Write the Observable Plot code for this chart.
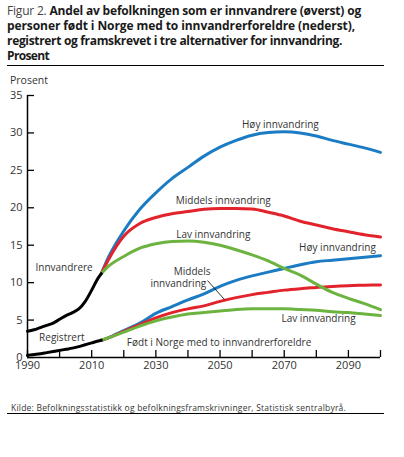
<!DOCTYPE html>
<html><head><meta charset="utf-8">
<script src="https://cdn.jsdelivr.net/npm/d3@7"></script>
<script src="https://cdn.jsdelivr.net/npm/@observablehq/plot@0.6"></script>
<style>
body{margin:0;background:#fff;font-family:"Open Sans",sans-serif;color:#222;}
#wrap{position:relative;width:404px;height:457px;overflow:hidden}
.tl{position:absolute;left:7px;font-size:12px;line-height:13px;height:13px;white-space:nowrap;font-weight:700;color:#1a1a1a}
.tl .fig{font-weight:400;color:#444}
.fit{display:inline-block;white-space:nowrap;line-height:13px}
.hr{position:absolute;left:7px;width:377px;height:0;border-top:1.3px solid #000}
#chart{position:absolute;left:0;top:70px}
.ylab{position:absolute;left:10px;top:74px;font-size:10.5px;line-height:12px;color:#333}
.cap{position:absolute;left:11px;top:401px;font-size:8.5px;line-height:10px;color:#333}
</style></head>
<body><div id="wrap">
<div class="tl" style="top:4px"><span class="fit" data-w="354"><span class="fig">Figur 2.</span> Andel av befolkningen som er innvandrere (øverst) og</span></div>
<div class="tl" style="top:19px"><span class="fit" data-w="348">personer født i Norge med to innvandrerforeldre (nederst),</span></div>
<div class="tl" style="top:34px"><span class="fit" data-w="335">registrert og framskrevet i tre alternativer for innvandring.</span></div>
<div class="tl" style="top:49px"><span class="fit" data-w="42">Prosent</span></div>
<div class="hr" style="top:65px"></div>
<div id="chart"></div>
<div class="ylab">Prosent</div>
<div class="cap"><span class="fit" data-w="335">Kilde: Befolkningsstatistikk og befolkningsframskrivninger, Statistisk sentralbyrå.</span></div>
<div class="hr" style="top:413px"></div>
</div>
<script>
// Registered (history)
const histYears = [1990, 1992, 1994, 1996, 1998, 2000, 2002, 2004, 2006, 2008, 2010, 2012, 2013];
const histImmigrants = [3.5, 3.7, 4.0, 4.3, 4.6, 5.1, 5.6, 6.0, 6.5, 7.5, 9.0, 10.6, 11.2];
const histBorn = [0.3, 0.4, 0.5, 0.65, 0.8, 0.95, 1.1, 1.25, 1.45, 1.7, 1.95, 2.2, 2.3];

// Projections
const projYears = [2013, 2015, 2020, 2025, 2030, 2035, 2040, 2045, 2050, 2055, 2060, 2065, 2070, 2075, 2080, 2085, 2090, 2095, 2100];
const immHigh   = [11.2, 13.2, 16.9, 19.8, 22.0, 23.9, 25.4, 26.9, 28.1, 29.0, 29.7, 30.05, 30.15, 30.0, 29.6, 29.0, 28.5, 28.0, 27.4];
const immMiddle = [11.2, 12.9, 16.2, 17.9, 18.7, 19.2, 19.5, 19.8, 19.9, 19.9, 19.85, 19.4, 18.9, 18.2, 17.7, 17.2, 16.8, 16.4, 16.1];
const immLow    = [11.2, 12.1, 13.5, 14.6, 15.2, 15.5, 15.55, 15.4, 15.0, 14.4, 13.7, 12.9, 11.9, 11.0, 9.8, 8.7, 7.9, 7.2, 6.4];
const bornHigh   = [2.3, 2.6, 3.6, 4.6, 5.9, 6.8, 7.7, 8.5, 9.5, 10.3, 10.9, 11.4, 11.9, 12.4, 12.8, 13.0, 13.2, 13.4, 13.6];
const bornMiddle = [2.3, 2.6, 3.5, 4.4, 5.3, 6.0, 6.5, 6.9, 7.5, 8.0, 8.4, 8.7, 9.0, 9.2, 9.35, 9.5, 9.6, 9.65, 9.7];
const bornLow    = [2.3, 2.6, 3.4, 4.2, 4.9, 5.4, 5.8, 6.0, 6.2, 6.4, 6.5, 6.5, 6.5, 6.4, 6.3, 6.1, 6.0, 5.8, 5.6];

// Axis ticks
const yTicks = [0, 5, 10, 15, 20, 25, 30, 35];
const xTicks = [1990, 2000, 2010, 2020, 2030, 2040, 2050, 2060, 2070, 2080, 2090, 2100];
const xTickLabels = [1990, 2010, 2030, 2050, 2070, 2090];

// Labels (annotations)
const labelTexts = ["Høy innvandring", "Middels innvandring", "Lav innvandring", "Høy innvandring", "Middels", "innvandring", "Lav innvandring", "Innvandrere", "Registrert", "Født i Norge med to innvandrerforeldre"];
const labelYears = [2068.8, 2051.0, 2047.9, 2086.6, 2041.3, 2037.0, 2080.7, 2001.4, 2000.7, 2049.7];
const labelValues = [31.1, 20.9, 16.4, 14.65, 11.5, 9.8, 5.17, 12.0, 2.67, 1.96];
const leaderYears = [2046.1, 2051.4];
const leaderValues = [10.28, 7.74];

const colors = {high: "#1b7cc3", middle: "#e2232c", low: "#6db33f", hist: "#000"};

const rows = [];
const add = (key, years, vals) => years.forEach((y, i) => rows.push({series: key, kind: key.split("-")[1], year: y, value: vals[i]}));
add("imm-high", projYears, immHigh);
add("born-high", projYears, bornHigh);
add("imm-middle", projYears, immMiddle);
add("born-middle", projYears, bornMiddle);
add("imm-low", projYears, immLow);
add("born-low", projYears, bornLow);
add("imm-hist", histYears, histImmigrants);
add("born-hist", histYears, histBorn);

const labels = labelTexts.map((t, i) => ({text: t, year: labelYears[i], value: labelValues[i]}));
const leader = [{x1: leaderYears[0], y1: leaderValues[0], x2: leaderYears[1], y2: leaderValues[1]}];

const chart = Plot.plot({
  width: 404, height: 320,
  marginLeft: 27, marginRight: 24, marginTop: 25, marginBottom: 33,
  x: {domain: [1990, 2100]},
  y: {domain: [0, 35]},
  style: {fontFamily: "'Open Sans', sans-serif", fontSize: "10px", color: "#333", background: "transparent", overflow: "visible"},
  marks: [
    Plot.axisY({ticks: yTicks, tickSize: -7, tickPadding: 12, tickFormat: d => String(d), fontSize: 11, label: null, stroke: "#000", strokeWidth: 1.3}),
    Plot.axisX({ticks: xTicks, tickSize: -7, tickFormat: () => "", label: null, stroke: "#000", strokeWidth: 1.3}),
    Plot.axisX({ticks: xTickLabels, tickSize: 0, tickPadding: 4, tickFormat: d => String(d), fontSize: 11, label: null}),
    Plot.ruleX([1990], {stroke: "#000", strokeWidth: 1.5}),
    Plot.ruleY([0], {stroke: "#000", strokeWidth: 1.5}),
    Plot.line(rows, {x: "year", y: "value", z: "series", stroke: d => colors[d.kind], strokeWidth: 3, curve: "monotone-x"}),
    Plot.link(leader, {x1: "x1", y1: "y1", x2: "x2", y2: "y2", stroke: "#000", strokeWidth: 0.8}),
    Plot.text(labels, {x: "year", y: "value", text: "text", fill: "#333", fontSize: 10})
  ]
});
document.getElementById("chart").appendChild(chart);

function fit() {
  document.querySelectorAll("[data-w]").forEach(el => {
    el.style.letterSpacing = "0px";
    const target = +el.dataset.w;
    const w = el.getBoundingClientRect().width;
    const n = el.textContent.length;
    el.style.letterSpacing = ((target - w) / n) + "px";
  });
}
fit();
if (document.fonts && document.fonts.ready) document.fonts.ready.then(fit);
</script>
</body></html>
